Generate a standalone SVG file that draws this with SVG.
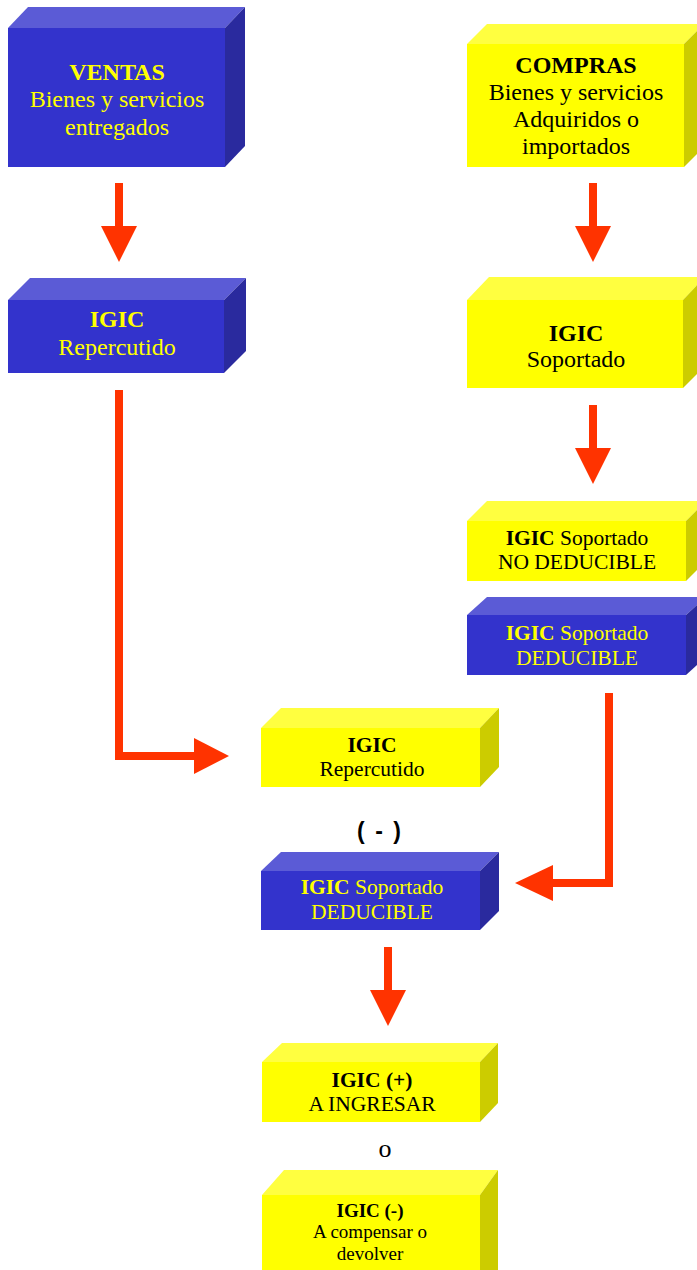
<svg xmlns="http://www.w3.org/2000/svg" width="697" height="1270" viewBox="0 0 697 1270">
<style>
.bf{fill:#3333CC}.bt{fill:#5B5BD6}.br{fill:#2A2A9E}
.yf{fill:#FFFF00}.yt{fill:#FFFF40}.yr{fill:#CCCC00}
text{font-family:"Liberation Serif","Times New Roman",serif;text-anchor:middle}
.ty{fill:#FFFF00}.tk{fill:#000000}
.b{font-weight:bold}
.s24{font-size:24px}.s21{font-size:21.5px}.s19{font-size:19px}
.ln{fill:none;stroke:#FF3300;stroke-width:8}
.hd{fill:#FF3300}
</style>
<rect width="697" height="1270" fill="#FFFFFF"/>
<g id="ventas">
<polygon class="bt" points="8,28 28,7 245,7 225,28"/>
<polygon class="br" points="225,28 245,7 245,146 225,167"/>
<rect class="bf" x="8" y="28" width="217" height="139"/>
<text class="ty s24" x="117" y="80"><tspan class="b">VENTAS</tspan><tspan x="117" y="107">Bienes y servicios</tspan><tspan x="117" y="135">entregados</tspan></text>
</g>
<g id="compras">
<polygon class="yt" points="467,44 487,24 704,24 684,44"/>
<polygon class="yr" points="684,44 704,24 704,147 684,167"/>
<rect class="yf" x="467" y="44" width="217" height="123"/>
<text class="tk s24" x="576" y="73"><tspan class="b">COMPRAS</tspan><tspan x="576" y="100">Bienes y servicios</tspan><tspan x="576" y="127">Adquiridos o</tspan><tspan x="576" y="154">importados</tspan></text>
</g>
<g id="igic-repercutido">
<polygon class="bt" points="8,300 30,278 246,278 224,300"/>
<polygon class="br" points="224,300 246,278 246,351 224,373"/>
<rect class="bf" x="8" y="300" width="216" height="73"/>
<text class="ty s24" x="117" y="327"><tspan class="b">IGIC</tspan><tspan x="117" y="355">Repercutido</tspan></text>
</g>
<g id="igic-soportado">
<polygon class="yt" points="467,300 489,277 705,277 683,300"/>
<polygon class="yr" points="683,300 705,277 705,366 683,388"/>
<rect class="yf" x="467" y="300" width="216" height="88"/>
<text class="tk s24" x="576" y="341"><tspan class="b">IGIC</tspan><tspan x="576" y="367">Soportado</tspan></text>
</g>
<g id="no-deducible">
<polygon class="yt" points="467,521 487,501 706,501 686,521"/>
<polygon class="yr" points="686,521 706,501 706,561 686,581"/>
<rect class="yf" x="467" y="521" width="219" height="60"/>
<text class="tk s21" x="577" y="545"><tspan class="b">IGIC</tspan> Soportado<tspan x="577" y="569">NO DEDUCIBLE</tspan></text>
</g>
<g id="deducible">
<polygon class="bt" points="467,615 487,597 706,597 686,615"/>
<polygon class="br" points="686,615 706,597 706,657 686,675"/>
<rect class="bf" x="467" y="615" width="219" height="60"/>
<text class="ty s21" x="577" y="640"><tspan class="b">IGIC</tspan> Soportado<tspan x="577" y="665">DEDUCIBLE</tspan></text>
</g>
<g id="repercutido-2">
<polygon class="yt" points="261,728 281,708 499,708 480,728"/>
<polygon class="yr" points="480,728 499,708 499,767 480,787"/>
<rect class="yf" x="261" y="728" width="219" height="59"/>
<text class="tk s21" x="372" y="752"><tspan class="b">IGIC</tspan><tspan x="372" y="776">Repercutido</tspan></text>
</g>
<g id="minus">
<text x="380" y="839" style="font-family:'Liberation Sans',Arial,sans-serif;font-weight:bold;font-size:23px;letter-spacing:2px;fill:#000">( - )</text>
</g>
<g id="deducible-2">
<polygon class="bt" points="261,871 281,852 499,852 480,871"/>
<polygon class="br" points="480,871 499,852 499,911 480,930"/>
<rect class="bf" x="261" y="871" width="219" height="59"/>
<text class="ty s21" x="372" y="894"><tspan class="b">IGIC</tspan> Soportado<tspan x="372" y="919">DEDUCIBLE</tspan></text>
</g>
<g id="ingresar">
<polygon class="yt" points="262,1062 282,1043 498,1043 480,1062"/>
<polygon class="yr" points="480,1062 498,1043 498,1103 480,1122"/>
<rect class="yf" x="262" y="1062" width="218" height="60"/>
<text class="tk s21" x="372" y="1087"><tspan class="b">IGIC (+)</tspan><tspan x="372" y="1111">A INGRESAR</tspan></text>
</g>
<g id="or">
<text class="tk" x="385" y="1157" style="font-size:26px">o</text>
</g>
<g id="compensar">
<polygon class="yt" points="262,1195 284,1170 498,1170 480,1195"/>
<polygon class="yr" points="480,1195 498,1170 498,1275 480,1275"/>
<rect class="yf" x="262" y="1195" width="218" height="80"/>
<text class="tk s19" x="370" y="1217"><tspan class="b">IGIC (-)</tspan><tspan x="370" y="1238">A compensar o</tspan><tspan x="370" y="1260">devolver</tspan></text>
</g>
<g id="connectors">
<path class="ln" d="M119,183 V228"/>
<polygon class="hd" points="101,226 137,226 119,262"/>
<path class="ln" d="M593,183 V228"/>
<polygon class="hd" points="575,226 611,226 593,262"/>
<path class="ln" d="M593,405 V450"/>
<polygon class="hd" points="575,448 611,448 593,484"/>
<path class="ln" d="M119,390 V756 H196"/>
<polygon class="hd" points="194,738 194,774 229,756"/>
<path class="ln" d="M609,693 V883 H551"/>
<polygon class="hd" points="553,865 553,901 515,883"/>
<path class="ln" d="M388,947 V992"/>
<polygon class="hd" points="370,990 406,990 388,1026"/>
</g>
</svg>
